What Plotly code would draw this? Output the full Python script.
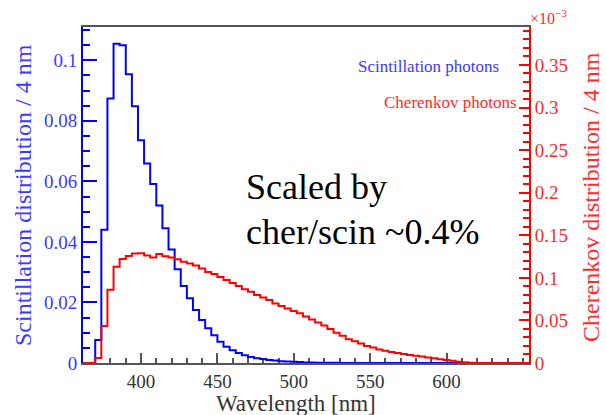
import plotly.graph_objects as go

# Wavelength binning: 4 nm bins from 362 nm to 654 nm
bin_edges = list(range(362, 655, 4))

# Scintillation photon spectrum (fraction per 4 nm bin)
scint = [0, 0, 0.0076, 0.044, 0.0874, 0.1055, 0.1050, 0.0954, 0.0848, 0.0736,
         0.0659, 0.0591, 0.052, 0.0445, 0.0375, 0.031, 0.0254, 0.0214, 0.0175, 0.0142,
         0.0115, 0.0092, 0.0070, 0.0054, 0.0042, 0.0033, 0.0026, 0.0020, 0.0016, 0.0013,
         0.0010, 0.0008, 0.0006, 0.0005, 0.0004, 0.0003, 0.0002, 0.0002, 0.0001, 0.0001,
         0.0001, 0.0001, 0, 0, 0, 0, 0, 0, 0, 0,
         0, 0, 0, 0, 0, 0, 0, 0, 0, 0,
         0, 0, 0, 0, 0, 0, 0, 0, 0, 0,
         0, 0, 0]

# Cherenkov photon spectrum (units of 1e-3 per 4 nm bin)
cher = [0, 0, 0.006, 0.0434, 0.086, 0.113, 0.122, 0.1256, 0.1287, 0.129,
        0.1262, 0.124, 0.128, 0.1255, 0.124, 0.1217, 0.119, 0.117, 0.1145, 0.111,
        0.107, 0.1045, 0.101, 0.0975, 0.094, 0.0905, 0.0865, 0.0837, 0.080, 0.077,
        0.074, 0.070, 0.0669, 0.064, 0.061, 0.0583, 0.0545, 0.051, 0.0475, 0.044,
        0.040, 0.0355, 0.032, 0.028, 0.0255, 0.0228, 0.020, 0.0182, 0.016, 0.0145,
        0.013, 0.0118, 0.0105, 0.0095, 0.0085, 0.0075, 0.0065, 0.0055, 0.0045, 0.0035,
        0.0025, 0.0015, 0.0008, 0.0003, 0, 0, 0, 0, 0, 0,
        0, 0, 0]

x_ticks = [400, 450, 500, 550, 600]
x_range = [362, 654]
y_left_range = [0, 0.111]
y_right_range = [0, 0.3946]

BLUE = "#0000ff"
RED = "#ff0000"
BLUE_TXT = "#3a3aff"
RED_TXT = "#ff2a2a"
GREY = "#555555"
FONT = "Times New Roman"
FONT_IN = "Times"

W, H = 606, 415
L, R, T, B = 83, 77, 27, 52
PW, PH = W - L - R, H - T - B


def px(x):
    return (x - L) / PW


def py(y):
    return (H - B - y) / PH


def font(size, color, family=FONT):
    return dict(family=family, size=size, color=color)


fig = go.Figure()
fig.add_trace(go.Scatter(
    x=bin_edges, y=scint + [scint[-1]], mode="lines", line_shape="hv",
    line=dict(color=BLUE, width=2), yaxis="y", showlegend=False,
))
fig.add_trace(go.Scatter(
    x=bin_edges, y=cher + [cher[-1]], mode="lines", line_shape="hv",
    line=dict(color=RED, width=2), yaxis="y2", showlegend=False,
))

fig.update_layout(
    width=W, height=H,
    margin=dict(l=L, r=R, t=T, b=B),
    paper_bgcolor="white", plot_bgcolor="white",
    font=dict(family=FONT),
    xaxis=dict(
        range=x_range, tickvals=x_ticks, showgrid=False, zeroline=False,
        showline=True, linecolor=GREY, linewidth=2, mirror=True,
        ticks="inside", ticklen=10, tickwidth=1.5, tickcolor=GREY,
        minor=dict(dtick=10, tick0=0, ticks="inside", ticklen=5, tickcolor=GREY, tickwidth=1.5),
        tickfont=font(19, "#333333"),
        layer="below traces",
    ),
    yaxis=dict(
        range=y_left_range, dtick=0.02, tick0=0, showgrid=False, zeroline=False,
        showline=True, linecolor=BLUE, linewidth=2,
        ticks="inside", ticklen=14, tickwidth=1.5, tickcolor=BLUE,
        minor=dict(dtick=0.005, ticks="inside", ticklen=7, tickcolor=BLUE, tickwidth=1.5),
        tickfont=font(19, BLUE_TXT),
        layer="below traces",
    ),
    yaxis2=dict(
        range=y_right_range, dtick=0.05, tick0=0, overlaying="y", side="right",
        showgrid=False, zeroline=False,
        showline=True, linecolor=RED, linewidth=2,
        ticks="inside", ticklen=10, tickwidth=1.5, tickcolor=RED,
        minor=dict(dtick=0.01, ticks="inside", ticklen=6, tickcolor=RED, tickwidth=1.5),
        tickfont=font(19, RED_TXT),
        layer="below traces",
    ),
)

annotations = [
    # axis titles
    dict(text="Scintillation distribution / 4 nm", x=px(23), y=py(195), textangle=-90,
         font=font(24, BLUE_TXT), xanchor="center", yanchor="middle"),
    dict(text="Cherenkov distribution / 4 nm", x=px(591), y=py(197), textangle=-90,
         font=font(24, RED_TXT), xanchor="center", yanchor="middle"),
    dict(text="Wavelength [nm]", x=px(296), y=py(403),
         font=font(23, "#333333"), xanchor="center", yanchor="middle"),
    dict(text="×10<sup>−3</sup>", x=px(548), y=py(17),
         font=font(16, RED_TXT, FONT_IN), xanchor="center", yanchor="middle"),
    # series labels
    dict(text="Scintillation photons", x=px(428), y=py(66),
         font=font(17, BLUE_TXT, FONT_IN), xanchor="center", yanchor="middle"),
    dict(text="Cherenkov photons", x=px(450), y=py(103),
         font=font(17, RED_TXT, FONT_IN), xanchor="center", yanchor="middle"),
    # scaling note
    dict(text="Scaled by", x=px(244), y=py(187),
         font=font(36, "black", FONT_IN), xanchor="left", yanchor="middle"),
    dict(text="cher/scin ~0.4%", x=px(244), y=py(232),
         font=font(36, "black", FONT_IN), xanchor="left", yanchor="middle"),
]
for a in annotations:
    a.update(xref="paper", yref="paper", showarrow=False)
fig.update_layout(annotations=annotations)

fig.write_html("out.html")
